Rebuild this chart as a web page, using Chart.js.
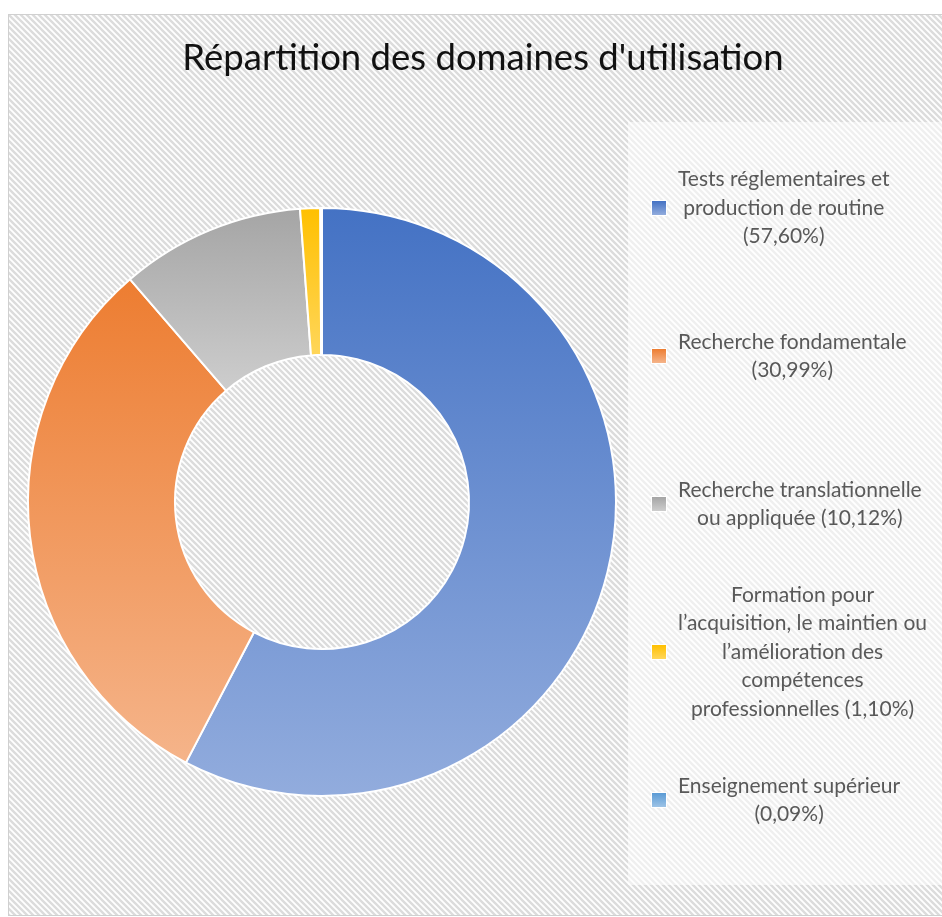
<!DOCTYPE html>
<html><head><meta charset="utf-8">
<script src="https://cdn.jsdelivr.net/npm/chart.js@4/dist/chart.umd.min.js"></script>
<style>html,body{margin:0;padding:0;background:#fff}canvas{display:block}</style>
</head><body>
<canvas id="c" width="942" height="917"></canvas>
<script>
// ---- data ----
const chartTitle = "Répartition des domaines d'utilisation";
const categories = [
  "Tests réglementaires et production de routine",
  "Recherche fondamentale",
  "Recherche translationnelle ou appliquée",
  "Formation pour l’acquisition, le maintien ou l’amélioration des compétences professionnelles",
  "Enseignement supérieur"
];
const values = [57.60, 30.99, 10.12, 1.10, 0.09];
// wrapped legend lines, {p} = formatted percentage
const legendLines = [
  ["Tests réglementaires et", "production de routine", "({p})"],
  ["Recherche fondamentale", "({p})"],
  ["Recherche translationnelle", "ou appliquée ({p})"],
  ["Formation pour", "l’acquisition, le maintien ou", "l’amélioration des", "compétences", "professionnelles ({p})"],
  ["Enseignement supérieur", "({p})"]
];

// ---- styles ----
const topColors = ['#4472C4', '#ED7D31', '#A5A5A5', '#FFC000', '#5B9BD5'];
const bottomColors = ['#92ACDD', '#F5B48A', '#CDCDCD', '#FFD65A', '#9DC3E6'];
const FONT = 'Lato, "Open Sans", sans-serif';

function fmtPct(v) { return v.toFixed(2).replace('.', ',') + '%'; }

function arcYRange(cx, cy, R, r, a0, a1) {
  const ys = [cy + R*Math.sin(a0), cy + R*Math.sin(a1), cy + r*Math.sin(a0), cy + r*Math.sin(a1)];
  for (let k = -2; k <= 2; k++) {
    const t = Math.PI/2 + 2*Math.PI*k; if (t >= a0 && t <= a1) ys.push(cy + R);
    const u = -Math.PI/2 + 2*Math.PI*k; if (u >= a0 && u <= a1) ys.push(cy - R);
  }
  return [Math.min(...ys), Math.max(...ys)];
}

function sliceGradient(context) {
  const chart = context.chart;
  const ca = chart.chartArea;
  const i = context.dataIndex;
  if (!ca) return topColors[i];
  const cx = (ca.left + ca.right) / 2, cy = (ca.top + ca.bottom) / 2;
  const R = Math.min(ca.right - ca.left, ca.bottom - ca.top) / 2 - 1;
  const r = R * 0.5;
  const total = values.reduce((a, b) => a + b, 0);
  let a0 = -Math.PI / 2;
  for (let j = 0; j < i; j++) a0 += values[j] / total * 2 * Math.PI;
  const a1 = a0 + values[i] / total * 2 * Math.PI;
  const [y0, y1] = arcYRange(cx, cy, R, r, a0, a1);
  const g = chart.ctx.createLinearGradient(0, y0, 0, Math.max(y1, y0 + 1));
  g.addColorStop(0, topColors[i]);
  g.addColorStop(1, bottomColors[i]);
  return g;
}

function makePattern(ctx, stripe, bg) {
  const p = document.createElement('canvas');
  p.width = 6; p.height = 6;
  const c = p.getContext('2d');
  c.fillStyle = bg; c.fillRect(0, 0, 6, 6);
  c.strokeStyle = stripe; c.lineWidth = 2.4;
  c.beginPath();
  c.moveTo(-3, -3); c.lineTo(9, 9);
  c.moveTo(-9, -3); c.lineTo(3, 9);
  c.moveTo(3, -3); c.lineTo(15, 9);
  c.stroke();
  return ctx.createPattern(p, 'repeat');
}

const backgroundPlugin = {
  id: 'bg',
  beforeDraw(chart) {
    const ctx = chart.ctx;
    ctx.save();
    ctx.fillStyle = '#fff';
    ctx.fillRect(0, 0, chart.width, chart.height);
    // frame
    ctx.fillStyle = makePattern(ctx, '#DCDCDC', '#FFFFFF');
    ctx.fillRect(8, 14, chart.width - 8, 902);
    ctx.strokeStyle = '#D0D0D0'; ctx.lineWidth = 1;
    ctx.strokeRect(8.5, 14.5, chart.width, 901);
    // legend panel
    ctx.fillStyle = 'rgba(255,255,255,0.55)';
    ctx.fillRect(628, 122, chart.width - 628, 763);
    // title
    ctx.fillStyle = '#111';
    ctx.font = '36.5px ' + FONT;
    ctx.textAlign = 'center';
    ctx.textBaseline = 'middle';
    ctx.fillText(chartTitle, 483, 58);
    ctx.restore();
  }
};

const legendPlugin = {
  id: 'customLegend',
  afterDraw(chart) {
    const ctx = chart.ctx;
    ctx.save();
    ctx.font = '21px ' + FONT;
    ctx.fillStyle = '#595959';
    ctx.textBaseline = 'middle';
    ctx.textAlign = 'center';
    const lineH = 28.5, firstCenter = 208, step = 148, textLeft = 678;
    legendLines.forEach((lines, i) => {
      const txt = lines.map(l => l.replace('{p}', fmtPct(values[i])));
      const maxW = Math.max(...txt.map(t => ctx.measureText(t).width));
      const cyI = firstCenter + step * i;
      const y0 = cyI - (txt.length - 1) * lineH / 2;
      txt.forEach((t, k) => ctx.fillText(t, textLeft + maxW / 2, y0 + k * lineH));
      // marker
      const g = ctx.createLinearGradient(0, cyI - 7, 0, cyI + 7);
      g.addColorStop(0, topColors[i]); g.addColorStop(1, bottomColors[i]);
      ctx.fillStyle = '#fff';
      ctx.fillRect(651, cyI - 8, 16, 16);
      ctx.fillStyle = g;
      ctx.fillRect(652, cyI - 7, 14, 14);
      ctx.fillStyle = '#595959';
    });
    ctx.restore();
  }
};

new Chart(document.getElementById('c'), {
  type: 'doughnut',
  data: {
    labels: categories,
    datasets: [{
      data: values,
      backgroundColor: sliceGradient,
      borderColor: '#FFFFFF',
      borderWidth: 2,
      hoverOffset: 0
    }]
  },
  options: {
    responsive: false,
    animation: false,
    events: [],
    cutout: '50%',
    layout: { padding: { left: 27, right: 325, top: 207, bottom: 120 } },
    plugins: { legend: { display: false }, tooltip: { enabled: false }, title: { display: false } }
  },
  plugins: [backgroundPlugin, legendPlugin]
});
</script>
</body></html>
